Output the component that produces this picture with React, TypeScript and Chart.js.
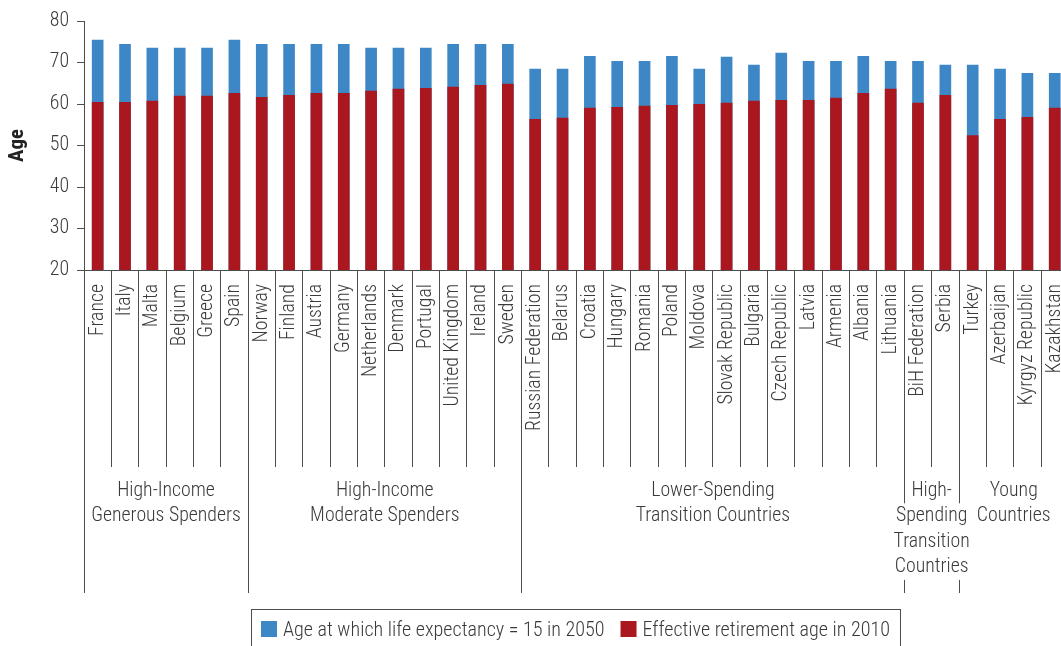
import React, { useEffect, useRef } from 'react';
import { Chart, registerables } from 'chart.js';

Chart.register(...registerables);

// ---------- data ----------
const countries = [
  'France', 'Italy', 'Malta', 'Belgium', 'Greece', 'Spain',
  'Norway', 'Finland', 'Austria', 'Germany', 'Netherlands', 'Denmark', 'Portugal', 'United Kingdom', 'Ireland', 'Sweden',
  'Russian Federation', 'Belarus', 'Croatia', 'Hungary', 'Romania', 'Poland', 'Moldova', 'Slovak Republic', 'Bulgaria',
  'Czech Republic', 'Latvia', 'Armenia', 'Albania', 'Lithuania',
  'BiH Federation', 'Serbia',
  'Turkey', 'Azerbaijan', 'Kyrgyz Republic', 'Kazakhstan',
];

const lifeExpectancyAge2050 = [
  75.4, 74.4, 73.5, 73.5, 73.5, 75.4,
  74.4, 74.4, 74.4, 74.4, 73.5, 73.5, 73.5, 74.4, 74.4, 74.4,
  68.4, 68.4, 71.5, 70.3, 70.3, 71.5, 68.4, 71.3, 69.4,
  72.3, 70.3, 70.3, 71.5, 70.3,
  70.3, 69.4,
  69.4, 68.4, 67.4, 67.4,
];

const retirementAge2010 = [
  60.4, 60.4, 60.7, 61.9, 61.9, 62.6,
  61.6, 62.1, 62.6, 62.6, 63.1, 63.6, 63.8, 64.1, 64.5, 64.8,
  56.3, 56.6, 59.0, 59.2, 59.5, 59.7, 59.9, 60.2, 60.7,
  60.9, 60.9, 61.4, 62.6, 63.6,
  60.2, 62.1,
  52.4, 56.3, 56.8, 59.0,
];

const seriesLabels = ['Age at which life expectancy = 15 in 2050', 'Effective retirement age in 2010'];

const groupNames = [
  ['High-Income', 'Generous Spenders'],
  ['High-Income', 'Moderate Spenders'],
  ['Lower-Spending', 'Transition Countries'],
  ['High-', 'Spending', 'Transition', 'Countries'],
  ['Young', 'Countries'],
];
const groupSizes = [6, 10, 14, 2, 4];

const yMin = 20;
const yMax = 80;
const yStep = 10;
const yTitle = 'Age';

// ---------- styles ----------
const FONT_CANDIDATES = [
  'Roboto Condensed',
  'Liberation Sans Narrow',
  'Arial Narrow',
  'Open Sans Condensed',
  'DejaVu Sans Condensed',
  'Liberation Sans',
];
const WEIGHT = '300';
const BLUE = '#3E87C6';
const RED = '#AA171E';
const TEXT = '#3a3a3a';
const AXIS = '#4d4d4d';
const CANVAS_W = 1100;
const CANVAS_H = 646;
const PLOT_RIGHT = 1068.4;
const REF_TEXT = 'Generous Spenders';
const REF_TEXT_WIDTH = 150;

function pickFont(): { family: string; size: number } {
  const c = document.createElement('canvas').getContext('2d') as CanvasRenderingContext2D;
  let family = 'sans-serif';
  for (const f of FONT_CANDIDATES) {
    c.font = `20px monospace`;
    const base = c.measureText(REF_TEXT + 'mmwwiill').width;
    c.font = `20px "${f}", monospace`;
    const w = c.measureText(REF_TEXT + 'mmwwiill').width;
    if (Math.abs(w - base) > 0.5) {
      family = `"${f}", sans-serif`;
      break;
    }
  }
  c.font = `${WEIGHT} 20px ${family}`;
  const w20 = c.measureText(REF_TEXT).width;
  const size = Math.round(((20 * REF_TEXT_WIDTH) / w20) * 10) / 10;
  return { family, size };
}

function makeOverlay(FONT: string, SIZE: number) {
  return {
    id: 'overlay',
    afterDraw(chart: any) {
      const ctx = chart.ctx as CanvasRenderingContext2D;
      const xs = chart.scales.x;
      const a = chart.chartArea;
      const n = chart.data.labels.length;
      const cw = n > 1 ? xs.getPixelForTick(1) - xs.getPixelForTick(0) : a.right - a.left;
      const bx = (k: number) => (k < n ? xs.getPixelForTick(k) - cw / 2 : xs.getPixelForTick(n - 1) + cw / 2);

      const groupBounds: number[] = [0];
      groupSizes.forEach((s) => groupBounds.push(groupBounds[groupBounds.length - 1] + s));

      ctx.save();
      ctx.strokeStyle = AXIS;
      ctx.lineWidth = 1;
      for (let k = 0; k <= n; k++) {
        const isGroup = groupBounds.includes(k);
        const x = Math.floor(bx(k)) + 0.5;
        ctx.beginPath();
        ctx.moveTo(x, a.bottom);
        ctx.lineTo(x, isGroup ? 593 : 467);
        ctx.stroke();
      }

      // group labels
      ctx.font = `${WEIGHT} ${SIZE}px ${FONT}`;
      ctx.textAlign = 'center';
      ctx.textBaseline = 'alphabetic';
      groupNames.forEach((lines, g) => {
        const cx = (bx(groupBounds[g]) + bx(groupBounds[g + 1])) / 2;
        lines.forEach((t, i) => {
          const y = 496 + i * 25.3;
          const w = ctx.measureText(t).width;
          ctx.fillStyle = '#ffffff';
          ctx.fillRect(cx - w / 2 - 3, y - 18, w + 6, 26);
          ctx.fillStyle = TEXT;
          ctx.fillText(t, cx, y);
        });
      });

      // legend
      ctx.font = `${WEIGHT} ${Math.round(SIZE * 1.016 * 10) / 10}px ${FONT}`;
      ctx.strokeStyle = AXIS;
      ctx.strokeRect(251.5, 609.5, 649, 60);
      ctx.textAlign = 'left';
      let x = 261;
      chart.data.datasets.forEach((ds: any) => {
        ctx.fillStyle = ds.backgroundColor;
        ctx.fillRect(x, 621, 16, 16);
        ctx.fillStyle = TEXT;
        ctx.fillText(ds.label, x + 22, 636);
        x += 22 + ctx.measureText(ds.label).width + 16;
      });
      ctx.restore();
    },
  };
}

export default function App() {
  const ref = useRef<HTMLCanvasElement | null>(null);

  useEffect(() => {
    if (!ref.current) return;
    const { family: FONT, size: SIZE } = pickFont();
    const chart = new Chart(ref.current, {
      type: 'bar',
      data: {
        labels: countries,
        datasets: [
          {
            label: seriesLabels[0],
            data: lifeExpectancyAge2050,
            backgroundColor: BLUE,
            order: 1,
            grouped: false,
            barThickness: 11,
          } as any,
          {
            label: seriesLabels[1],
            data: retirementAge2010,
            backgroundColor: RED,
            order: 0,
            grouped: false,
            barThickness: 11,
          } as any,
        ],
      },
      options: {
        responsive: false,
        animation: false,
        devicePixelRatio: 1,
        layout: { padding: { left: 0, right: CANVAS_W - PLOT_RIGHT, top: 21, bottom: 0 } },
        plugins: { legend: { display: false }, tooltip: { enabled: false } },
        scales: {
          x: {
            grid: { display: false, drawTicks: false },
            border: { display: true, color: AXIS, width: 1 },
            ticks: {
              autoSkip: false,
              minRotation: 90,
              maxRotation: 90,
              padding: 14,
              color: TEXT,
              font: { family: FONT, size: SIZE, weight: WEIGHT },
            },
            afterFit: (s: any) => {
              s.height = 376;
            },
          },
          y: {
            min: yMin,
            max: yMax,
            ticks: { stepSize: yStep, padding: 8, color: TEXT, font: { family: FONT, size: SIZE, weight: WEIGHT } },
            grid: { drawOnChartArea: false, drawTicks: true, tickLength: 7, color: AXIS },
            border: { display: true, color: AXIS, width: 1 },
            title: {
              display: true,
              text: yTitle,
              color: '#222',
              font: { family: FONT, size: SIZE + 1, weight: 'bold', lineHeight: 1.2 },
              padding: { top: 5, bottom: 0 },
            },
            afterFit: (s: any) => {
              s.width = 84;
            },
          },
        },
      } as any,
      plugins: [makeOverlay(FONT, SIZE)],
    });
    return () => chart.destroy();
  }, []);

  return (
    <div
      style={{
        position: 'fixed',
        left: 0,
        top: 0,
        width: 1061,
        height: 646,
        overflow: 'hidden',
        background: '#ffffff',
      }}
    >
      <canvas
        ref={ref}
        width={CANVAS_W}
        height={CANVAS_H}
        style={{ display: 'block', width: CANVAS_W, height: CANVAS_H }}
      />
    </div>
  );
}
